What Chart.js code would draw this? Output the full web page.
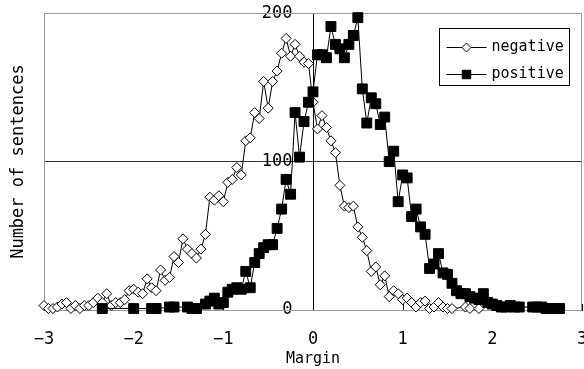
<!DOCTYPE html>
<html lang="en">
<head>
<meta charset="UTF-8">
<title>Number of sentences by margin</title>
<script src="https://cdn.jsdelivr.net/npm/chart.js"></script>
<style>
  body { margin: 0; background: #fff; }
  #wrap { width: 584px; height: 369px; }
</style>
</head>
<body>
<div id="wrap"><canvas id="myChart" width="584" height="369"></canvas></div>
<script>
  // negative sentences (diamonds)
  var negX = [-3.00, -2.95, -2.90, -2.85, -2.80, -2.75, -2.70, -2.65, -2.60, -2.55,
              -2.50, -2.45, -2.40, -2.35, -2.30, -2.25, -2.20, -2.15, -2.10, -2.05,
              -2.00, -1.95, -1.90, -1.85, -1.80, -1.75, -1.70, -1.65, -1.60, -1.55,
              -1.50, -1.45, -1.40, -1.35, -1.30, -1.25, -1.20, -1.15, -1.10, -1.05,
              -1.00, -0.95, -0.90, -0.85, -0.80, -0.75, -0.70, -0.65, -0.60, -0.55,
              -0.50, -0.45, -0.40, -0.35, -0.30, -0.25, -0.20, -0.15, -0.10, -0.05,
               0.00,  0.05,  0.10,  0.15,  0.20,  0.25,  0.30,  0.35,  0.40,  0.45,
               0.50,  0.55,  0.60,  0.65,  0.70,  0.75,  0.80,  0.85,  0.90,  0.95,
               1.00,  1.05,  1.10,  1.15,  1.20,  1.25,  1.30,  1.35,  1.40,  1.45,
               1.50,  1.55,  1.70,  1.75,  1.85];
  var negY = [3, 1, 1, 2, 4, 5, 1, 3, 1, 3,
              3, 5, 8, 5, 11, 3, 5, 5, 7, 13,
              14, 12, 11, 21, 15, 13, 27, 20, 22, 36,
              32, 48, 41, 38, 35, 41, 51, 76, 74, 77,
              73, 86, 88, 96, 91, 114, 116, 133, 129, 154,
              136, 154, 161, 173, 183, 171, 179, 171, 167, 166,
              140, 122, 131, 123, 114, 106, 84, 70, 69, 70,
              56, 49, 40, 26, 29, 17, 23, 9, 13, 11,
              7, 8, 5, 2, 5, 6, 1, 2, 5, 2,
              1, 1, 2, 1, 1];

  // positive sentences (squares)
  var posX = [-2.35, -2.00, -1.80, -1.75, -1.60, -1.55, -1.40, -1.35, -1.30, -1.20,
              -1.15, -1.10, -1.05, -1.00, -0.95, -0.90, -0.85, -0.80, -0.75, -0.70,
              -0.65, -0.60, -0.55, -0.50, -0.45, -0.40, -0.35, -0.30, -0.25, -0.20,
              -0.15, -0.10, -0.05,  0.00,  0.05,  0.10,  0.15,  0.20,  0.25,  0.30,
               0.35,  0.40,  0.45,  0.50,  0.55,  0.60,  0.65,  0.70,  0.75,  0.80,
               0.85,  0.90,  0.95,  1.00,  1.05,  1.10,  1.15,  1.20,  1.25,  1.30,
               1.35,  1.40,  1.45,  1.50,  1.55,  1.60,  1.65,  1.70,  1.75,  1.80,
               1.85,  1.90,  1.95,  2.00,  2.05,  2.10,  2.15,  2.20,  2.25,  2.30,
               2.45,  2.50,  2.55,  2.60,  2.65,  2.70,  2.75];
  var posY = [1, 1, 1, 1, 2, 2, 2, 1, 1, 4,
              6, 8, 4, 5, 12, 14, 15, 14, 26, 15,
              32, 38, 42, 44, 44, 55, 68, 88, 78, 133,
              103, 127, 140, 147, 172, 172, 170, 191, 179, 176,
              170, 179, 185, 197, 149, 126, 143, 139, 125, 130,
              100, 107, 73, 91, 89, 63, 68, 56, 51, 28,
              31, 38, 25, 24, 18, 13, 11, 11, 9, 8,
              7, 11, 5, 4, 3, 2, 2, 3, 2, 2,
              2, 2, 2, 1, 1, 1, 1];

  var xTicks = [-3, -2, -1, 0, 1, 2, 3];
  var yTicks = [0, 100, 200];

  var monoFont = "'DejaVu Sans Mono', 'Liberation Mono', monospace";

  function toPoints(xs, ys) {
    return xs.map(function (x, i) { return { x: x, y: ys[i] }; });
  }

  // gray frame around the plot area, small inward ticks on the x axis
  var frame = {
    id: 'frame',
    beforeDatasetsDraw: function (chart) {
      var a = chart.chartArea, ctx = chart.ctx, sx = chart.scales.x;
      ctx.save();
      ctx.strokeStyle = '#999';
      ctx.lineWidth = 1;
      ctx.strokeRect(Math.round(a.left) + 0.5, Math.round(a.top) + 0.5,
                     Math.round(a.right - a.left) - 1, Math.round(a.bottom - a.top));
      ctx.strokeStyle = '#000';
      ctx.beginPath();
      xTicks.forEach(function (v) {
        var px = Math.round(sx.getPixelForValue(v)) + 0.5;
        ctx.moveTo(px, a.bottom);
        ctx.lineTo(px, a.bottom - 6);
      });
      ctx.stroke();
      ctx.restore();
    }
  };

  // boxed legend: line sample with marker, then the label
  var boxLegend = {
    id: 'boxLegend',
    afterDraw: function (chart) {
      var a = chart.chartArea, ctx = chart.ctx;
      var w = 130, h = 57;
      var x0 = Math.round(a.right - 13 - w) + 0.5, y0 = Math.round(a.top + 15) + 0.5;
      ctx.save();
      ctx.fillStyle = '#fff';
      ctx.fillRect(x0, y0, w, h);
      ctx.strokeStyle = '#000';
      ctx.lineWidth = 1;
      ctx.strokeRect(x0, y0, w, h);
      ctx.font = '15px ' + monoFont;
      ctx.textBaseline = 'middle';
      chart.data.datasets.forEach(function (ds, i) {
        var cy = Math.round(y0 + 18 + i * 27) + 0.5;
        ctx.strokeStyle = '#000';
        ctx.beginPath();
        ctx.moveTo(x0 + 7, cy);
        ctx.lineTo(x0 + 47, cy);
        ctx.stroke();
        ctx.fillStyle = ds.pointBackgroundColor;
        Chart.helpers.drawPoint(ctx, {
          pointStyle: ds.pointStyle,
          radius: ds.pointStyle === 'rect' ? 6 : 4.5,
          borderWidth: 1
        }, x0 + 27, cy);
        ctx.fillStyle = '#000';
        ctx.fillText(ds.label, x0 + 52, cy);
      });
      ctx.restore();
    }
  };

  var ctx = document.getElementById('myChart').getContext('2d');
  var myChart = new Chart(ctx, {
    type: 'line',
    data: {
      datasets: [{
        label: 'negative',
        data: toPoints(negX, negY),
        borderColor: '#000',
        borderWidth: 1,
        pointStyle: 'rectRot',
        pointRadius: 5,
        pointBorderWidth: 1,
        pointBorderColor: '#000',
        pointBackgroundColor: '#fff',
        clip: false,
        order: 2
      }, {
        label: 'positive',
        data: toPoints(posX, posY),
        borderColor: '#000',
        borderWidth: 1,
        pointStyle: 'rect',
        pointRadius: 7,
        pointBorderWidth: 1,
        pointBorderColor: '#000',
        pointBackgroundColor: '#000',
        clip: false,
        order: 1
      }]
    },
    options: {
      responsive: false,
      animation: false,
      layout: { autoPadding: false, padding: { top: 12, right: 2, left: 0, bottom: 0 } },
      plugins: {
        legend: { display: false },
        tooltip: { enabled: false }
      },
      scales: {
        x: {
          type: 'linear',
          position: 'bottom',
          min: xTicks[0],
          max: xTicks[xTicks.length - 1],
          afterBuildTicks: function (s) { s.ticks = xTicks.map(function (v) { return { value: v }; }); },
          ticks: {
            color: '#000',
            padding: 19,
            maxRotation: 0,
            font: { family: monoFont, size: 17 },
            callback: function (v) { return v < 0 ? '\u2212' + (-v) : String(v); }
          },
          grid: { display: false, drawTicks: false },
          border: { display: true, color: '#000', width: 1 },
          title: {
            display: true,
            text: 'Margin',
            color: '#000',
            font: { family: monoFont, size: 15 },
            padding: { top: 0, bottom: 1 }
          },
          afterFit: function (s) {
            s.paddingLeft = 0;
            s.paddingRight = 0;
            s.height = 59;
          }
        },
        y: {
          type: 'linear',
          position: { x: 0 },
          min: yTicks[0],
          max: yTicks[yTicks.length - 1],
          afterBuildTicks: function (s) { s.ticks = yTicks.map(function (v) { return { value: v }; }); },
          ticks: {
            color: '#000',
            font: { family: monoFont, size: 17 },
            callback: function (v) { return String(v) + '  '; }
          },
          grid: {
            drawTicks: false,
            color: function (c) { return c.tick && c.tick.value === 100 ? '#333' : 'rgba(0,0,0,0)'; }
          },
          border: { display: true, color: '#000', width: 1 }
        },
        yTitle: {
          type: 'linear',
          axis: 'y',
          position: 'left',
          min: yTicks[0],
          max: yTicks[yTicks.length - 1],
          ticks: { display: false },
          grid: { display: false, drawTicks: false },
          border: { display: false },
          title: {
            display: true,
            text: 'Number of sentences',
            color: '#000',
            font: { family: monoFont, size: 17 },
            padding: { top: 8, bottom: 0 }
          },
          afterFit: function (s) { s.width = 44; }
        }
      }
    },
    plugins: [frame, boxLegend]
  });
</script>
</body>
</html>
